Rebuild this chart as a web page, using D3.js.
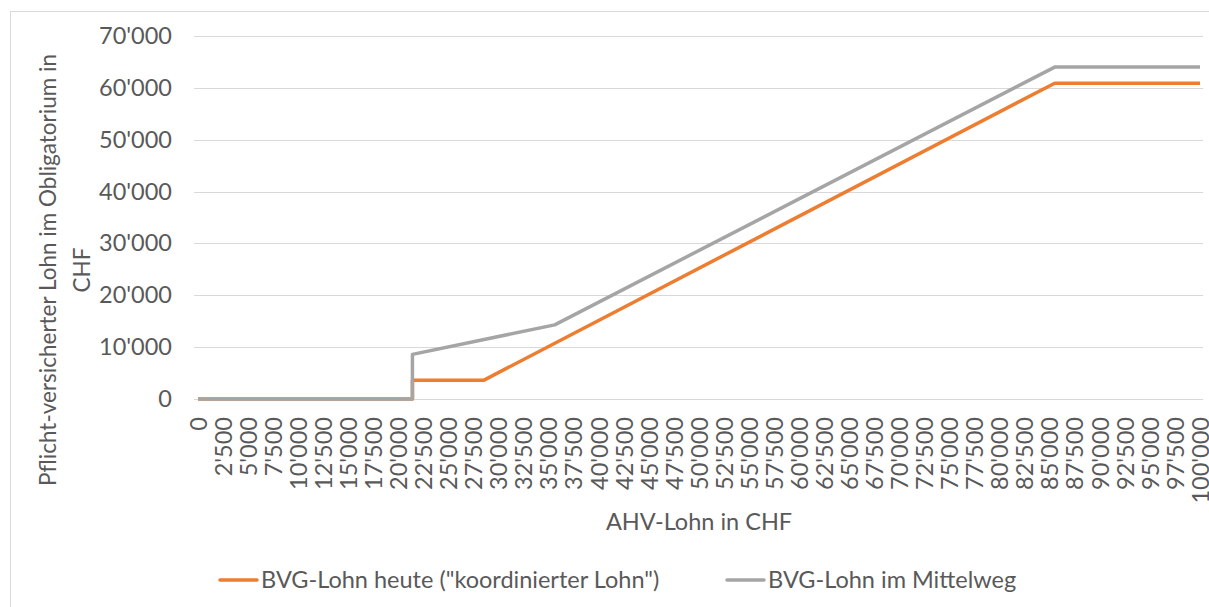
<!DOCTYPE html>
<html>
<head>
<meta charset="utf-8">
<script src="https://cdn.jsdelivr.net/npm/d3@7"></script>
<style>
  body { margin: 0; background: #fff; }
  svg { display: block; }
</style>
</head>
<body>
<svg id="chart" width="1209" height="607"></svg>
<script>
/*
 BVG-Lohn: heute vs. Mittelweg
*/

// x ticks: AHV-Lohn 0 .. 100'000 in steps of 2'500
const xTicks = d3.range(0, 100001, 2500);
const yTicks = [0, 10000, 20000, 30000, 40000, 50000, 60000, 70000];

// breakpoints
const heuteX = [0, 21400, 21400, 28500, 85500, 100000];
const heuteY = [0, 0, 3600, 3600, 60900, 60900];
const mittelX = [0, 21400, 21400, 35600, 85500, 100000];
const mittelY = [0, 0, 8600, 14300, 64000, 64000];

const seriesNames = ['BVG-Lohn heute ("koordinierter Lohn")', 'BVG-Lohn im Mittelweg'];
const colors = ['#ED7D31', '#A5A5A5'];

const FONT = 'Lato, "Open Sans", sans-serif';
const TEXT_COLOR = '#595959';
const FS = 23.5;

const width = 1209, height = 607;
const margin = { top: 36, right: 6, bottom: 208, left: 198 };

const ch = d3.formatLocale({ decimal: '.', thousands: "'", grouping: [3], currency: ['', ''] });
const fmt = ch.format(',');

const svg = d3.select('#chart');

// chart frame (right and bottom edge are outside the picture)
svg.append('rect')
    .attr('x', 10.5).attr('y', 11.5)
    .attr('width', 1400).attr('height', 800)
    .attr('fill', 'none')
    .attr('stroke', '#D9D9D9');

const xscale = d3.scaleLinear()
    .domain([0, 100000])
    .range([margin.left, 1200]);

const yscale = d3.scaleLinear()
    .domain([0, 70000])
    .range([height - margin.bottom, margin.top]);

// gridlines
svg.append('g')
    .selectAll('line')
    .data(yTicks)
    .join('line')
    .attr('x1', xscale(0) - 4)
    .attr('x2', xscale(100000) + 3)
    .attr('y1', d => Math.round(yscale(d)) + 0.5)
    .attr('y2', d => Math.round(yscale(d)) + 0.5)
    .attr('stroke', '#D9D9D9')
    .attr('stroke-width', 1);

// y axis labels
svg.append('g')
    .attr('transform', `translate(${xscale(0) - 26}, 0)`)
    .call(d3.axisLeft(yscale).tickValues(yTicks).tickFormat(fmt).tickSize(0).tickPadding(0))
    .call(g => g.select('.domain').remove())
    .call(g => g.selectAll('text')
        .attr('font-family', FONT)
        .attr('font-size', FS)
        .attr('fill', TEXT_COLOR));

// x axis labels, rotated
svg.append('g')
    .attr('transform', `translate(0, 417)`)
    .call(d3.axisBottom(xscale).tickValues(xTicks).tickFormat(fmt).tickSize(0).tickPadding(0))
    .call(g => g.select('.domain').remove())
    .call(g => g.selectAll('text')
        .attr('font-family', FONT)
        .attr('font-size', FS)
        .attr('fill', TEXT_COLOR)
        .attr('text-anchor', 'end')
        .attr('transform', 'rotate(-90)')
        .attr('x', 0)
        .attr('y', 0)
        .attr('dy', '0.35em'));

// axis titles
svg.append('text')
    .attr('x', (xscale(0) + xscale(100000)) / 2)
    .attr('y', 522)
    .attr('dy', '0.35em')
    .attr('text-anchor', 'middle')
    .attr('font-family', FONT)
    .attr('font-size', FS)
    .attr('fill', TEXT_COLOR)
    .text('AHV-Lohn in CHF');

const ytitle = svg.append('g')
    .attr('transform', 'translate(0, 270) rotate(-90)');
ytitle.append('text')
    .attr('x', 0).attr('y', 48)
    .attr('dy', '0.35em')
    .attr('text-anchor', 'middle')
    .attr('font-family', FONT)
    .attr('font-size', FS - 1)
    .attr('fill', TEXT_COLOR)
    .text('Pflicht-versicherter Lohn im Obligatorium in');
ytitle.append('text')
    .attr('x', 0).attr('y', 82)
    .attr('dy', '0.35em')
    .attr('text-anchor', 'middle')
    .attr('font-family', FONT)
    .attr('font-size', FS - 1)
    .attr('fill', TEXT_COLOR)
    .text('CHF');

// lines: heute first, Mittelweg drawn on top
const line = d3.line()
    .x(d => xscale(d[0]))
    .y(d => yscale(d[1]));

const series = [
    d3.zip(heuteX, heuteY),
    d3.zip(mittelX, mittelY)
];

svg.append('g')
    .selectAll('path')
    .data(series)
    .join('path')
    .attr('d', line)
    .attr('fill', 'none')
    .attr('stroke', (d, i) => colors[i])
    .attr('stroke-width', 3.5)
    .attr('stroke-linejoin', 'round');

// legend
const legendX = [220, 727];
const legend = svg.append('g')
    .selectAll('g')
    .data(seriesNames)
    .join('g')
    .attr('transform', (d, i) => `translate(${legendX[i]}, 580)`);
legend.append('line')
    .attr('x1', 0).attr('x2', 37)
    .attr('stroke', (d, i) => colors[i])
    .attr('stroke-width', 3.5)
    .attr('stroke-linecap', 'round');
legend.append('text')
    .attr('x', 41)
    .attr('dy', '0.35em')
    .attr('font-family', FONT)
    .attr('font-size', FS)
    .attr('fill', TEXT_COLOR)
    .text(d => d);
</script>
</body>
</html>
